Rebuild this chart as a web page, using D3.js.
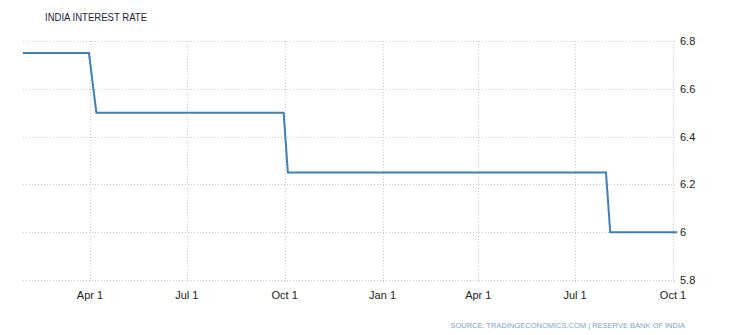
<!DOCTYPE html>
<html>
<head>
<meta charset="utf-8">
<script src="https://cdn.jsdelivr.net/npm/d3@7"></script>
<style>
  body { margin: 0; background: #fff; }
  text { font-family: "Liberation Sans", Arial, sans-serif; }
</style>
</head>
<body>
<script>
// step points of the policy rate
const dates = ["2016-01-29","2016-03-31","2016-04-07","2016-09-30","2016-10-04","2017-07-30","2017-08-03","2017-10-05"];
const rates = [6.75, 6.75, 6.5, 6.5, 6.25, 6.25, 6, 6];
const xTicks = ["2016-04-01","2016-07-01","2016-10-01","2017-01-01","2017-04-01","2017-07-01","2017-10-01"];
const yTicks = [5.8, 6, 6.2, 6.4, 6.6, 6.8];

var width = 735, height = 335;
var parse = d3.utcParse("%Y-%m-%d");
var fmt = d3.utcFormat("%b %-d");
var data = dates.map(function(d, i){ return {date: parse(d), value: rates[i]}; });

var svg = d3.select("body").append("svg")
    .attr("width", width).attr("height", height);

var xScale = d3.scaleUtc()
    .domain([parse("2016-04-01"), parse("2017-10-01")])
    .range([90, 673]);
var yScale = d3.scaleLinear()
    .domain([5.8, 6.8])
    .range([280, 41]);

// grid
svg.append("g").selectAll("line").data(yTicks).enter().append("line")
    .attr("x1", 23).attr("x2", 677)
    .attr("y1", function(d){ return Math.round(yScale(d)) + 0.5; })
    .attr("y2", function(d){ return Math.round(yScale(d)) + 0.5; })
    .style("stroke", "#c8c8c8").style("stroke-dasharray", "1,2");
svg.append("g").selectAll("line").data(xTicks).enter().append("line")
    .attr("x1", function(d){ return Math.round(xScale(parse(d))) + 0.5; })
    .attr("x2", function(d){ return Math.round(xScale(parse(d))) + 0.5; })
    .attr("y1", 41).attr("y2", 284)
    .style("stroke", "#c8c8c8").style("stroke-dasharray", "1,2");

// labels
svg.append("g").selectAll("text").data(yTicks).enter().append("text")
    .attr("x", 680).attr("y", function(d){ return yScale(d) + 4; })
    .style("font-size", "11px").style("fill", "#222")
    .text(function(d){ return d; });
svg.append("g").selectAll("text").data(xTicks).enter().append("text")
    .attr("x", function(d){ return xScale(parse(d)); }).attr("y", 299)
    .attr("text-anchor", "middle")
    .style("font-size", "11px").style("fill", "#222")
    .text(function(d){ return fmt(parse(d)); });

// line
var line = d3.line()
    .x(function(d){ return xScale(d.date); })
    .y(function(d){ return yScale(d.value); });
svg.append("path").datum(data)
    .attr("d", line)
    .style("fill", "none").style("stroke", "#3f7fb6").style("stroke-width", 2);

svg.append("text").attr("x", 45).attr("y", 21)
    .attr("textLength", 102).attr("lengthAdjust", "spacingAndGlyphs")
    .style("font-size", "11px").style("fill", "#1c1c3c")
    .text("INDIA INTEREST RATE");
svg.append("text").attr("x", 685).attr("y", 328)
    .attr("text-anchor", "end")
    .style("font-size", "7.5px").style("fill", "#7fa3c4")
    .text("SOURCE: TRADINGECONOMICS.COM | RESERVE BANK OF INDIA");
</script>
</body>
</html>
